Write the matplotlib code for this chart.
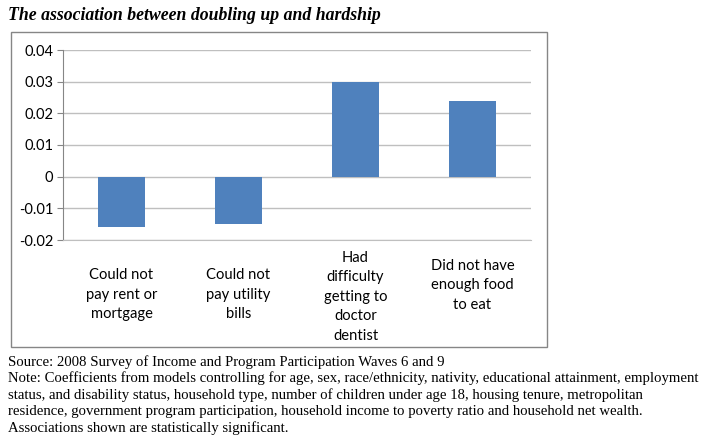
import matplotlib.pyplot as plt
from matplotlib.patches import Rectangle
from matplotlib.transforms import blended_transform_factory

categories = ["Could not\npay rent or\nmortgage", "Could not\npay utility\nbills",
              "Had\ndifficulty\ngetting to\ndoctor\ndentist", "Did not have\nenough food\nto eat"]
values = [-0.016, -0.015, 0.030, 0.024]
yticks = [-0.02, -0.01, 0, 0.01, 0.02, 0.03, 0.04]
ytick_labels = ["-0.02", "-0.01", "0", "0.01", "0.02", "0.03", "0.04"]

title = "The association between doubling up and hardship"
notes = ["Source: 2008 Survey of Income and Program Participation Waves 6 and 9",
         "Note: Coefficients from models controlling for age, sex, race/ethnicity, nativity, educational attainment, employment",
         "status, and disability status, household type, number of children under age 18, housing tenure, metropolitan",
         "residence, government program participation, household income to poverty ratio and household net wealth.",
         "Associations shown are statistically significant."]

W, H = 706, 437
fig = plt.figure(figsize=(W / 100, H / 100), dpi=100)

# outer chart border
fig.patches.append(Rectangle((11 / W, 1 - 347 / H), 536 / W, 315 / H, transform=fig.transFigure,
                             fill=False, edgecolor="#868686", linewidth=1))

ax = fig.add_axes([63 / W, 1 - 240 / H, 468 / W, 190 / H])
x = range(len(values))
ax.bar(x, values, width=0.4, color="#4F81BD", zorder=3)
ax.set_xlim(-0.5, len(values) - 0.5)
ax.set_ylim(-0.02, 0.04)
ax.set_yticks(yticks)
ax.set_yticklabels(ytick_labels, fontfamily="Lato", fontsize=10.5)
ax.yaxis.grid(True, color="#BFBFBF", linewidth=1, zorder=0)
for s in ["top", "right"]:
    ax.spines[s].set_visible(False)
ax.spines["bottom"].set_color("#BFBFBF")
ax.spines["left"].set_color("#868686")
ax.tick_params(axis="y", color="#868686", length=4, pad=3)
ax.set_xticks([])

# label top positions in pixels from the figure top
label_tops = [268, 268, 251, 259]
trans = blended_transform_factory(ax.transData, fig.transFigure)
for i, lab in enumerate(categories):
    ax.text(i, 1 - label_tops[i] / H, lab, transform=trans, ha="center", va="top",
            fontfamily="Lato", fontsize=10.6, linespacing=1.5)

fig.text(8 / W, 1 - 16 / H, title, fontfamily="Liberation Serif", fontsize=12.8,
         fontweight="bold", fontstyle="italic", va="center")

for k, line in enumerate(notes):
    fig.text(8 / W, 1 - (362 + 16.6 * k) / H, line, fontfamily="Liberation Serif",
             fontsize=10.6, va="center")

fig.savefig("out.png", dpi=100)
